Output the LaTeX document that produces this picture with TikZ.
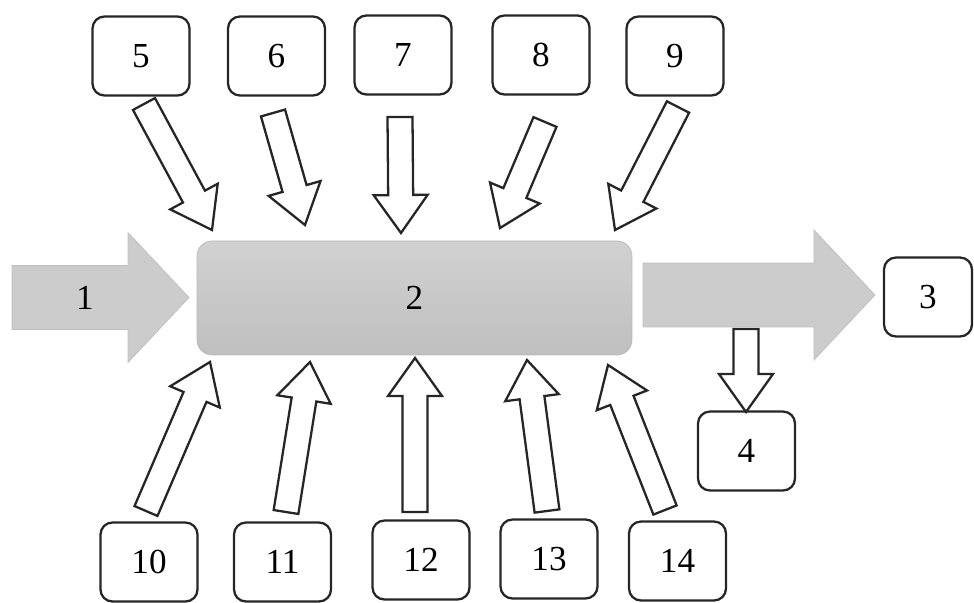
\documentclass[tikz,border=0pt]{standalone}
\usepackage{fontspec}
\setmainfont{Liberation Serif}
\usetikzlibrary{calc}

\begin{document}
\begin{tikzpicture}[x=0.02cm,y=-0.02cm]
	\tikzstyle{num}=[font=\fontsize{20}{24}\selectfont]
	\tikzstyle{box}=[num,draw=black!85,line width=1.3pt,rounded corners=0.24cm,fill=white,minimum width=1.94cm,minimum height=1.58cm]
	\tikzstyle{hollow}=[draw=black!85,line width=1.3pt,fill=white,line join=miter]
	\tikzstyle{flow}=[fill=gray!40,draw=gray!50,line width=0.4pt]

	\useasboundingbox (0,0) rectangle (974,602);

	% central block and the two gray flows
	\node[num,draw=gray!55,rounded corners=0.3cm,top color=gray!36,bottom color=gray!50,minimum width=8.7cm,minimum height=2.28cm] (b2) at (414.5,298) {2};

	\coordinate (g1s) at (12,297.5);
	\coordinate (g1e) at (189,297.5);
	\coordinate (g3s) at (643,295);
	\coordinate (g3e) at (875,295);
	\foreach \from/\to in {g1s/g1e,g3s/g3e}{
		\coordinate (hb) at ($(\to)!1.22cm!(\from)$);
		\draw[flow] ($(\from)!0.64cm!90:(\to)$) -- ($(hb)!0.64cm!90:(\to)$) -- ($(hb)!1.3cm!90:(\to)$) -- (\to)
			-- ($(hb)!1.3cm!-90:(\to)$) -- ($(hb)!0.64cm!-90:(\to)$) -- ($(\from)!0.64cm!-90:(\to)$) -- cycle;
	}
	\node[num] (b1) at (85,298) {1};

	% small boxes
	\node[box,minimum width=1.76cm] (b3) at (928,297) {3};
	\node[box] (b4) at (746.5,451) {4};
	\node[box] (b5) at (141,56) {5};
	\node[box] (b6) at (276.5,56) {6};
	\node[box] (b7) at (403,55) {7};
	\node[box] (b8) at (541,55) {8};
	\node[box] (b9) at (675,56) {9};
	\node[box] (b10) at (149,562) {10};
	\node[box] (b11) at (282.5,562) {11};
	\node[box] (b12) at (421,560) {12};
	\node[box] (b13) at (549,559) {13};
	\node[box] (b14) at (677.5,561) {14};

	% tails and tips of the hollow arrows
	\coordinate (a4) at (746,329);   \coordinate (p4) at (746,412);
	\coordinate (a5) at (144,104);   \coordinate (p5) at (212,230);
	\coordinate (a6) at (273,113);   \coordinate (p6) at (305,225);
	\coordinate (a7) at (400,117);   \coordinate (p7) at (401,233);
	\coordinate (a8) at (545,122);   \coordinate (p8) at (500,228);
	\coordinate (a9) at (678,107);   \coordinate (p9) at (615,230);
	\coordinate (a10) at (146,511);  \coordinate (p10) at (210,362);
	\coordinate (a11) at (286,512);  \coordinate (p11) at (310,362);
	\coordinate (a12) at (415,512);  \coordinate (p12) at (415,358);
	\coordinate (a13) at (547,511);  \coordinate (p13) at (527,360);
	\coordinate (a14) at (665,510);  \coordinate (p14) at (608,365);

	\foreach \from/\to in {a4/p4,a5/p5,a6/p6,a7/p7,a8/p8,a9/p9,a10/p10,a11/p11,a12/p12,a13/p13,a14/p14}{
		\coordinate (hb) at ($(\to)!0.76cm!(\from)$);
		\draw[hollow] ($(\from)!0.25cm!90:(\to)$) -- ($(hb)!0.25cm!90:(\to)$) -- ($(hb)!0.54cm!90:(\to)$) -- (\to)
			-- ($(hb)!0.54cm!-90:(\to)$) -- ($(hb)!0.25cm!-90:(\to)$) -- ($(\from)!0.25cm!-90:(\to)$) -- cycle;
	}
\end{tikzpicture}
\end{document}
